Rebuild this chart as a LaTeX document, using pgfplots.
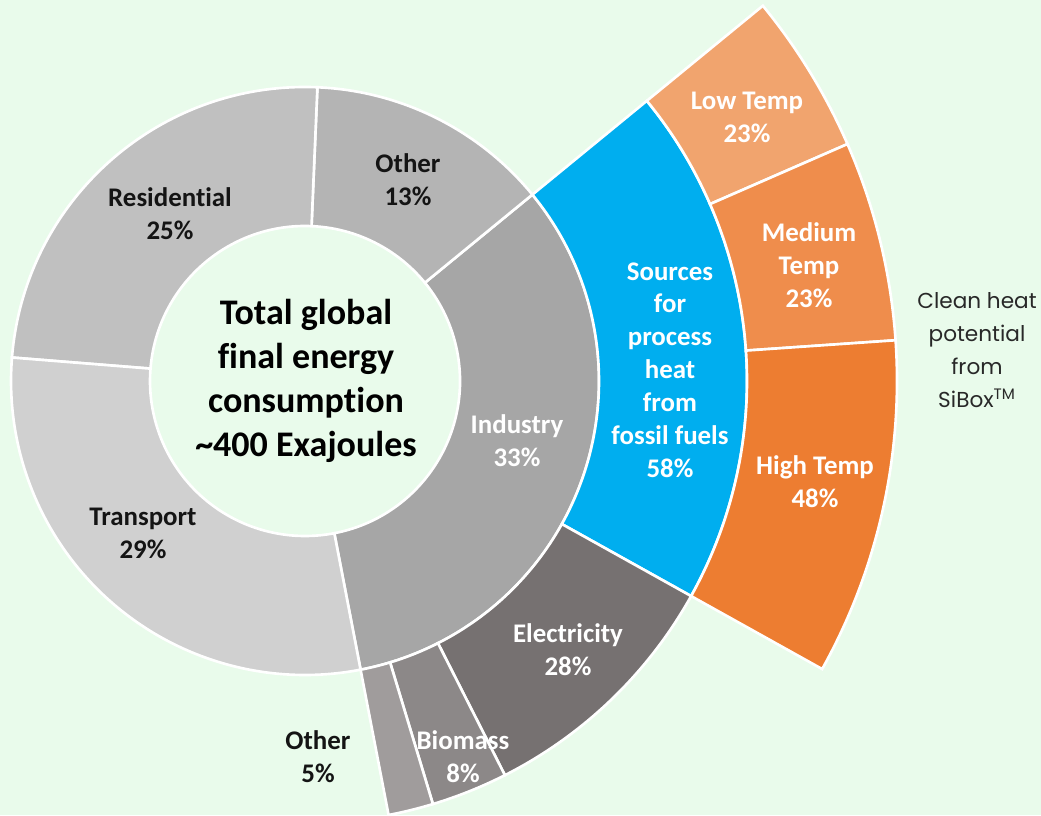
\documentclass[border=0pt]{standalone}
\usepackage{pgfplots}
\pgfplotsset{compat=1.18}
\usepackage{pgfplotstable}
\usepackage{fontspec}
\setmainfont{Carlito}[Ligatures=NoCommon]
\newfontfamily\siboxfont{Poppins}

\definecolor{bg}{RGB}{233,251,235}
\definecolor{cIndustry}{RGB}{166,166,166}
\definecolor{cOtherA}{RGB}{180,180,180}
\definecolor{cResidential}{RGB}{192,192,192}
\definecolor{cTransport}{RGB}{208,208,208}
\definecolor{cSources}{RGB}{0,174,239}
\definecolor{cElectricity}{RGB}{118,113,113}
\definecolor{cBiomass}{RGB}{140,136,136}
\definecolor{cOtherB}{RGB}{160,156,156}
\definecolor{cLow}{RGB}{241,164,110}
\definecolor{cMedium}{RGB}{239,141,76}
\definecolor{cHigh}{RGB}{237,125,49}
\definecolor{txt}{RGB}{20,20,20}
\definecolor{txtsib}{RGB}{40,40,40}

\tikzset{
  lab/.style={font=\fontsize{15.3}{18.7}\selectfont\bfseries, align=center, text=txt, inner sep=0pt},
  labw/.style={lab, text=white},
}

% shares of each ring (percent of its parent sector)
\pgfplotstableread{
name share colour
Industry 32.9 cIndustry
Other 13.4 cOtherA
Residential 24.4 cResidential
Transport 29.3 cTransport
}\ringone
\pgfplotstableread{
name share colour
Sources 57.8 cSources
Electricity 28.7 cElectricity
Biomass 8.5 cBiomass
Other 5.0 cOtherB
}\ringtwo
\pgfplotstableread{
name share colour
Low 23.0 cLow
Medium 28.7 cMedium
High 48.3 cHigh
}\ringthree

\newcommand\computering[4]{% table, prefix, start angle, signed span
  \pgfplotstablegetrowsof{#1}%
  \pgfmathtruncatemacro\nrows{\pgfplotsretval-1}%
  \xdef\curang{#3}%
  \foreach \i in {0,...,\nrows}{%
    \pgfplotstablegetelem{\i}{share}\of{#1}%
    \pgfmathsetmacro\nxtang{\curang+(#4)*\pgfplotsretval/100}%
    \expandafter\xdef\csname #2a\i\endcsname{\curang}%
    \expandafter\xdef\csname #2b\i\endcsname{\nxtang}%
    \pgfplotstablegetelem{\i}{colour}\of{#1}%
    \expandafter\xdef\csname #2c\i\endcsname{\pgfplotsretval}%
    \xdef\curang{\nxtang}%
  }%
}
\computering{\ringone}{A}{-79.1}{360}
\pgfmathsetmacro\spantwo{-(\csname Ab0\endcsname-\csname Aa0\endcsname)}
\computering{\ringtwo}{B}{\csname Ab0\endcsname}{\spantwo}
\pgfmathsetmacro\spanthree{\csname Bb0\endcsname-\csname Ba0\endcsname}
\computering{\ringthree}{C}{\csname Ba0\endcsname}{\spanthree}

\newcommand\sunwedge[5]{% colour, r_in, r_out, angle a, angle b
  \fill[fill=#1, draw=white, line width=1.5pt]
    ({#2*cos(#4)},{#2*sin(#4)}) arc[start angle=#4, end angle=#5, radius=#2]
    -- ({#3*cos(#5)},{#3*sin(#5)}) arc[start angle=#5, end angle=#4, radius=#3] -- cycle;}

\begin{document}
\begin{tikzpicture}
\begin{axis}[
  x=1cm, y=1cm,
  xmin=-6.1, xmax=14.72, ymin=-8.68, ymax=7.62,
  hide axis,
]
\fill[bg] (rel axis cs:0,0) rectangle (rel axis cs:1,1);
\pgfplotsinvokeforeach{0,...,3}{%
  \sunwedge{\csname Ac#1\endcsname}{3.1}{5.88}{\csname Aa#1\endcsname}{\csname Ab#1\endcsname}}
\pgfplotsinvokeforeach{0,...,3}{%
  \sunwedge{\csname Bc#1\endcsname}{5.88}{8.84}{\csname Ba#1\endcsname}{\csname Bb#1\endcsname}}
\pgfplotsinvokeforeach{0,...,2}{%
  \sunwedge{\csname Cc#1\endcsname}{8.84}{11.84}{\csname Ca#1\endcsname}{\csname Cb#1\endcsname}}

\node[lab] at (axis cs:-2.70,3.34) {Residential\\25\%};
\node[lab] at (axis cs:2.06,4.02) {Other\\13\%};
\node[lab] at (axis cs:-3.24,-3.04) {Transport\\29\%};
\node[labw] at (axis cs:4.24,-1.20) {Industry\\33\%};
\node[labw] at (axis cs:7.30,0.22) {Sources\\for\\process\\heat\\from\\fossil fuels\\58\%};
\node[labw] at (axis cs:8.84,5.28) {Low Temp\\23\%};
\node[labw] at (axis cs:10.08,2.32) {Medium\\Temp\\23\%};
\node[labw] at (axis cs:10.20,-2.02) {High Temp\\48\%};
\node[labw] at (axis cs:5.26,-5.38) {Electricity\\28\%};
\node[labw] at (axis cs:3.16,-7.52) {Biomass\\8\%};
\node[lab] at (axis cs:0.26,-7.52) {Other\\5\%};
\node[font=\fontsize{20.5}{25}\selectfont\bfseries, align=center, text=black, inner sep=0pt]
  at (axis cs:0.02,0.0) {Total global\\final energy\\consumption\\\textasciitilde400 Exajoules};
\node[font=\siboxfont\fontsize{12.3}{18.7}\selectfont, align=center, text=txtsib, inner sep=0pt]
  at (axis cs:13.44,0.62) {Clean heat\\potential\\from\\SiBox\textsuperscript{TM}};
\end{axis}
\pgfresetboundingbox
\path[use as bounding box] (current axis.south west) rectangle (current axis.north east);
\end{tikzpicture}
\end{document}
